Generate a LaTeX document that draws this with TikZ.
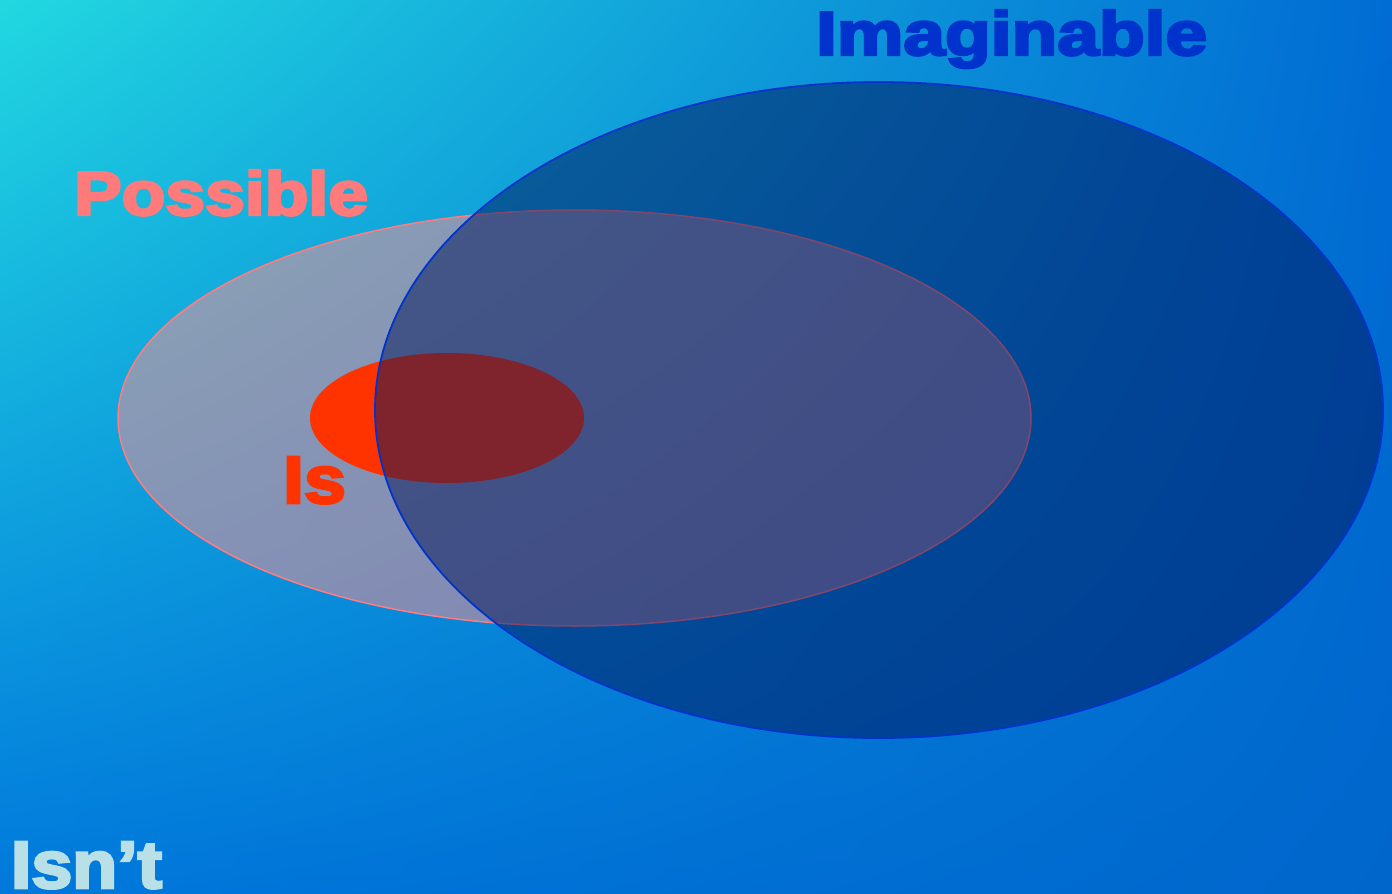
\documentclass[tikz,border=0pt]{standalone}
\usepackage{fontspec}
\usetikzlibrary{shadings}
\newfontfamily\heavy{Liberation Sans Bold}[FakeBold=4]
\definecolor{bgUL}{RGB}{34,216,224}
\definecolor{bgUR}{RGB}{0,108,212}
\definecolor{bgLL}{RGB}{0,120,220}
\definecolor{bgLR}{RGB}{0,102,204}
\definecolor{imagFill}{RGB}{0,20,90}
\definecolor{imagLine}{RGB}{0,51,204}
\definecolor{possFill}{RGB}{255,144,144}
\definecolor{possLine}{RGB}{255,124,128}
\definecolor{possText}{RGB}{255,122,122}
\definecolor{isRed}{RGB}{255,51,0}
\definecolor{isntText}{RGB}{184,224,230}
\tikzset{
  lbl/.style={anchor=base west, inner sep=0pt, outer sep=0pt},
}
\begin{document}
\begin{tikzpicture}[x=1pt, y=-1pt]
\useasboundingbox (0,0) rectangle (1392,894);
\shade[upper left=bgUL, upper right=bgUR, lower left=bgLL, lower right=bgLR] (0,0) rectangle (1392,894);
% Possible set
\path[fill=possFill, fill opacity=0.5, draw=possLine, line width=1.5pt] (574.5,418) ellipse [x radius=456.5, y radius=208];
% Is set
\path[fill=isRed] (447,418) ellipse [x radius=137, y radius=65];
% Imaginable set
\path[fill=imagFill, fill opacity=0.5, draw=imagLine, line width=1.8pt] (879,410) ellipse [x radius=504, y radius=328];
% labels
\node[lbl, text=imagLine] (imagL) at (816,55) {\resizebox{391pt}{45pt}{\heavy Imaginable}};
\node[lbl, text=possText] (possL) at (74,215) {\resizebox{294pt}{45pt}{\heavy Possible}};
\node[lbl, text=isRed] (isL) at (283,503) {\resizebox{63pt}{46pt}{\heavy Is}};
\node[lbl, text=isntText] (isntL) at (11,888) {\resizebox{151pt}{46pt}{\heavy Isn’t}};
\end{tikzpicture}
\end{document}
